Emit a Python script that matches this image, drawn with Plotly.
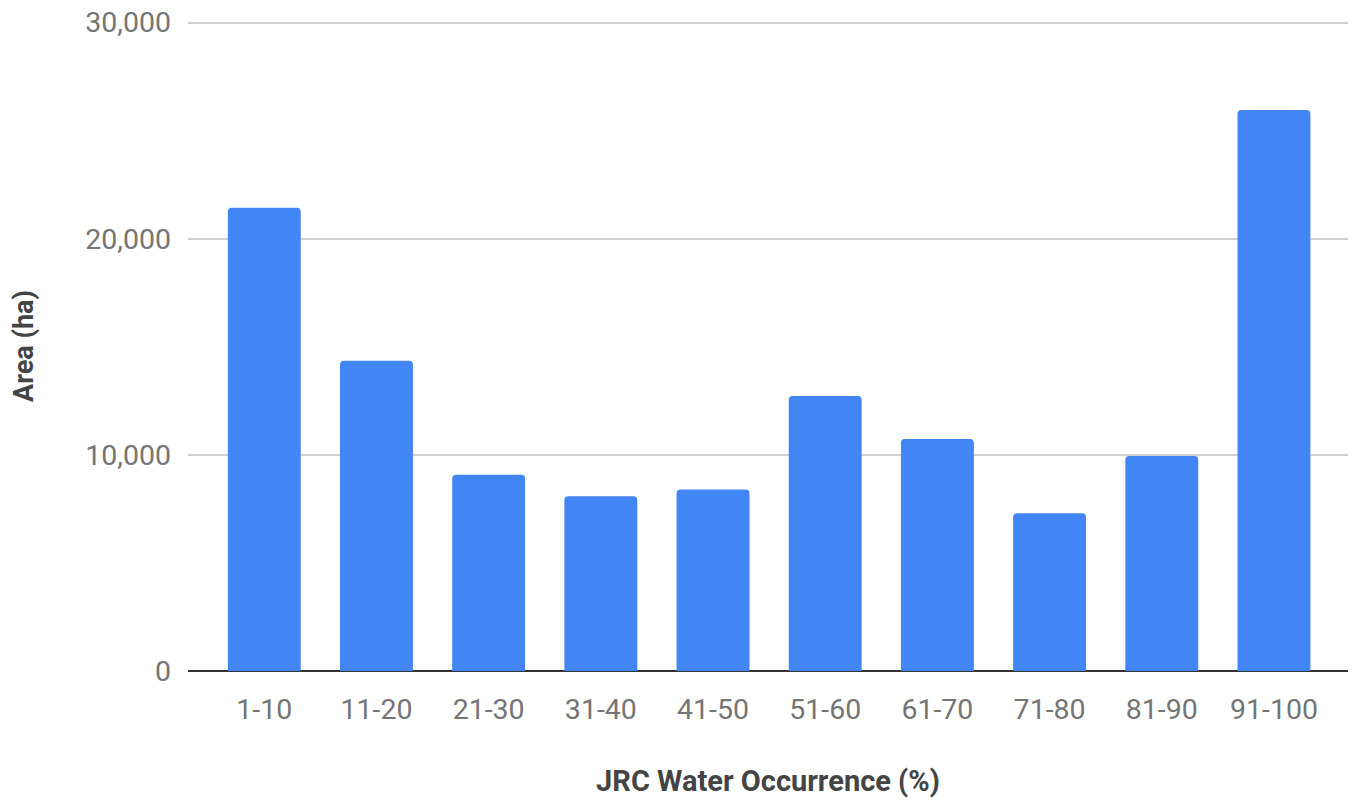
import plotly.graph_objects as go

categories = ["1-10", "11-20", "21-30", "31-40", "41-50", "51-60", "61-70", "71-80", "81-90", "91-100"]
area_ha = [21430, 14350, 9080, 8080, 8400, 12720, 10730, 7300, 9950, 25950]
y_ticks = [0, 10000, 20000, 30000]
y_tick_labels = ["0", "10,000", "20,000", "30,000"]

fig = go.Figure(
    go.Bar(
        x=categories,
        y=area_ha,
        marker=dict(color="#4285F4", cornerradius=4, line=dict(width=0)),
    )
)

fig.update_layout(
    width=1351,
    height=796,
    margin=dict(l=180, r=11, t=13, b=133),
    paper_bgcolor="white",
    plot_bgcolor="white",
    bargap=0.35,
    showlegend=False,
    font=dict(family="Roboto", color="#757575", size=28),
)

fig.update_xaxes(
    range=[-0.68, 9.66],
    showgrid=False,
    showline=False,
    ticks="",
    tickfont=dict(family="Roboto", size=28.5, color="#757575"),
    ticklabelstandoff=18,
    title=dict(
        text="<b>JRC Water Occurrence (%)</b>",
        font=dict(family="Roboto", size=29, color="#444444"),
        standoff=46,
    ),
    automargin=False,
)

fig.update_yaxes(
    range=[0, 30070],
    tickvals=y_ticks,
    ticktext=y_tick_labels,
    showgrid=True,
    gridcolor="#d0d0d0",
    gridwidth=2,
    zeroline=True,
    zerolinecolor="#333333",
    zerolinewidth=2,
    showline=False,
    ticks="",
    tickfont=dict(family="Roboto", size=28.5, color="#757575"),
    ticklabelstandoff=16,
    ticklabeloverflow="allow",
    title=dict(
        text="<b>Area (ha)</b>",
        font=dict(family="Roboto", size=27, color="#444444"),
        standoff=44,
    ),
    automargin=False,
)

fig.write_html("out.html")
